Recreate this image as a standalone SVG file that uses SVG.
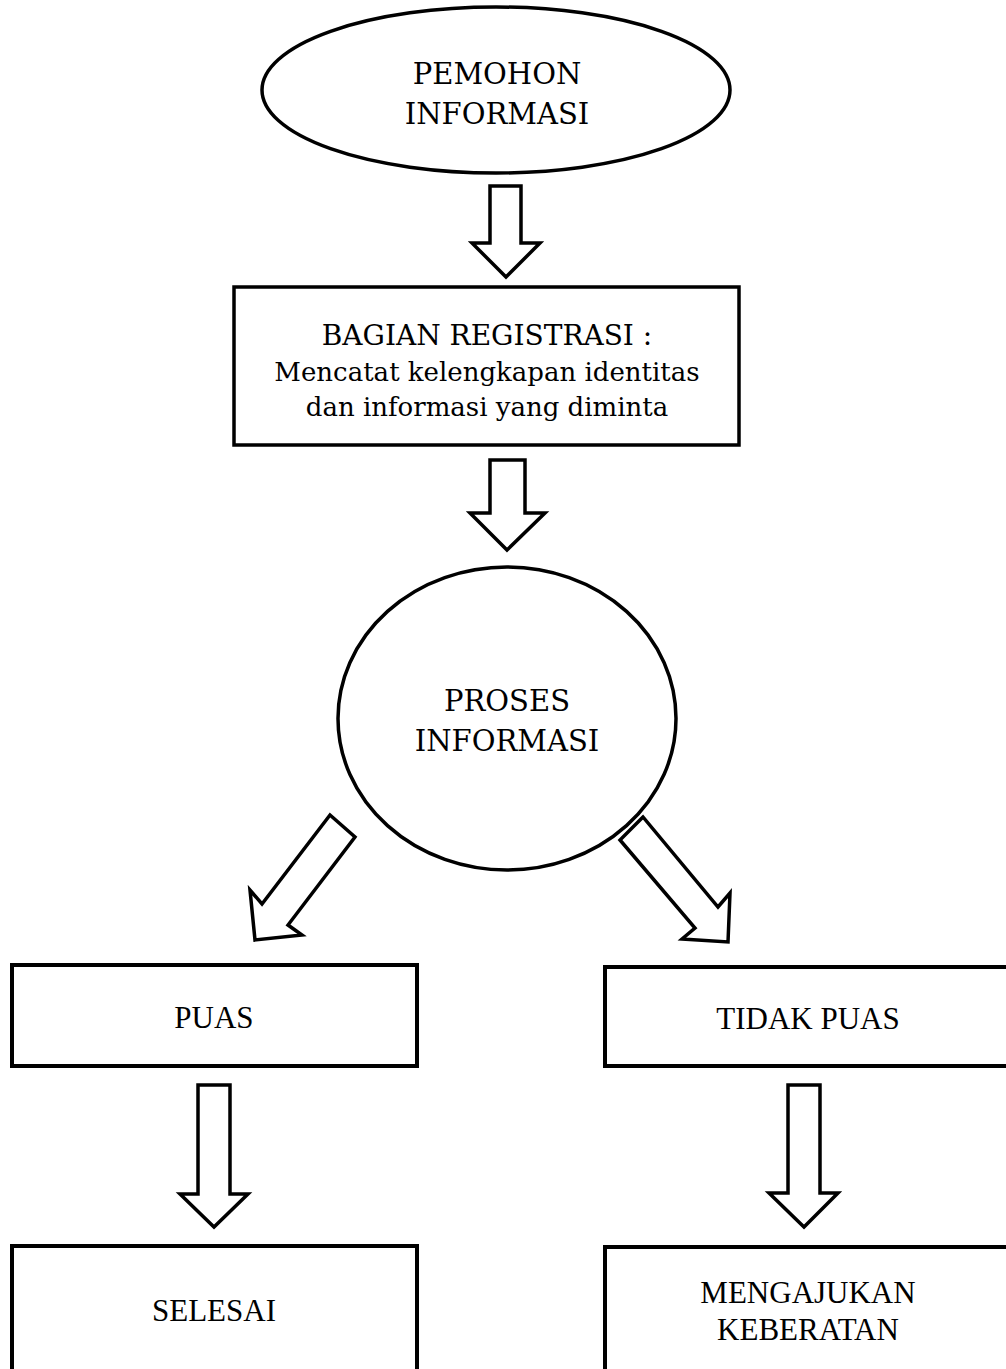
<svg xmlns="http://www.w3.org/2000/svg" width="1006" height="1369" viewBox="0 0 1006 1369">
<style>
.shape{fill:#fff;stroke:#000;stroke-width:3.5}
.box{fill:#fff;stroke:#000;stroke-width:4}
.arrow{fill:#fff;stroke:#000;stroke-width:3.5;stroke-linejoin:miter}
.t1{font-family:"DejaVu Serif","Liberation Serif",serif;font-size:29px;fill:#000;text-anchor:middle}
.t1b{font-family:"DejaVu Serif","Liberation Serif",serif;font-size:28px;fill:#000;text-anchor:middle}
.t2{font-family:"DejaVu Serif","Liberation Serif",serif;font-size:26px;fill:#000;text-anchor:middle}
.t3{font-family:"Liberation Serif","Times New Roman",serif;font-size:31px;fill:#000;text-anchor:middle}
</style>
<rect width="1006" height="1369" fill="#fff"/>
<g id="pemohon">
<ellipse class="shape" cx="496" cy="90" rx="234" ry="83"/>
<text class="t1" x="497" y="84">PEMOHON</text>
<text class="t1" x="497" y="124">INFORMASI</text>
</g>
<g id="registrasi">
<rect class="shape" x="234" y="287" width="505" height="158"/>
<text class="t1b" x="487" y="345">BAGIAN REGISTRASI :</text>
<text class="t2" x="487" y="381">Mencatat kelengkapan identitas</text>
<text class="t2" x="487" y="416">dan informasi yang diminta</text>
</g>
<g id="proses">
<ellipse class="shape" cx="507" cy="718.5" rx="169" ry="151.5"/>
<text class="t1" x="507" y="711">PROSES</text>
<text class="t1" x="507" y="751">INFORMASI</text>
</g>
<g id="puas">
<rect class="box" x="12" y="965" width="405" height="101"/>
<text class="t3" x="214" y="1028">PUAS</text>
</g>
<g id="tidak-puas">
<rect class="box" x="605" y="967" width="420" height="99"/>
<text class="t3" x="808" y="1029">TIDAK PUAS</text>
</g>
<g id="selesai">
<rect class="box" x="12" y="1246" width="405" height="140"/>
<text class="t3" x="214" y="1321">SELESAI</text>
</g>
<g id="keberatan">
<rect class="box" x="605" y="1247" width="420" height="140"/>
<text class="t3" x="808" y="1303">MENGAJUKAN</text>
<text class="t3" x="808" y="1340">KEBERATAN</text>
</g>
<g id="connectors">
<polygon class="arrow" points="490,186 521,186 521,243 540,243 506,277 472,243 490,243"/>
<polygon class="arrow" points="490,460 525,460 525,513 545,513 507,550 470,513 490,513"/>
<polygon class="arrow" points="330,815 355,837 288,925 302,935 255,940 250,890 262,904"/>
<polygon class="arrow" points="643,817 620,840 695,928 682,939 728,942 730,893 718,907"/>
<polygon class="arrow" points="198,1085 230,1085 230,1194 248,1194 214,1227 180,1194 198,1194"/>
<polygon class="arrow" points="788,1085 820,1085 820,1193 838,1193 804,1227 769,1193 788,1193"/>
</g>
</svg>
